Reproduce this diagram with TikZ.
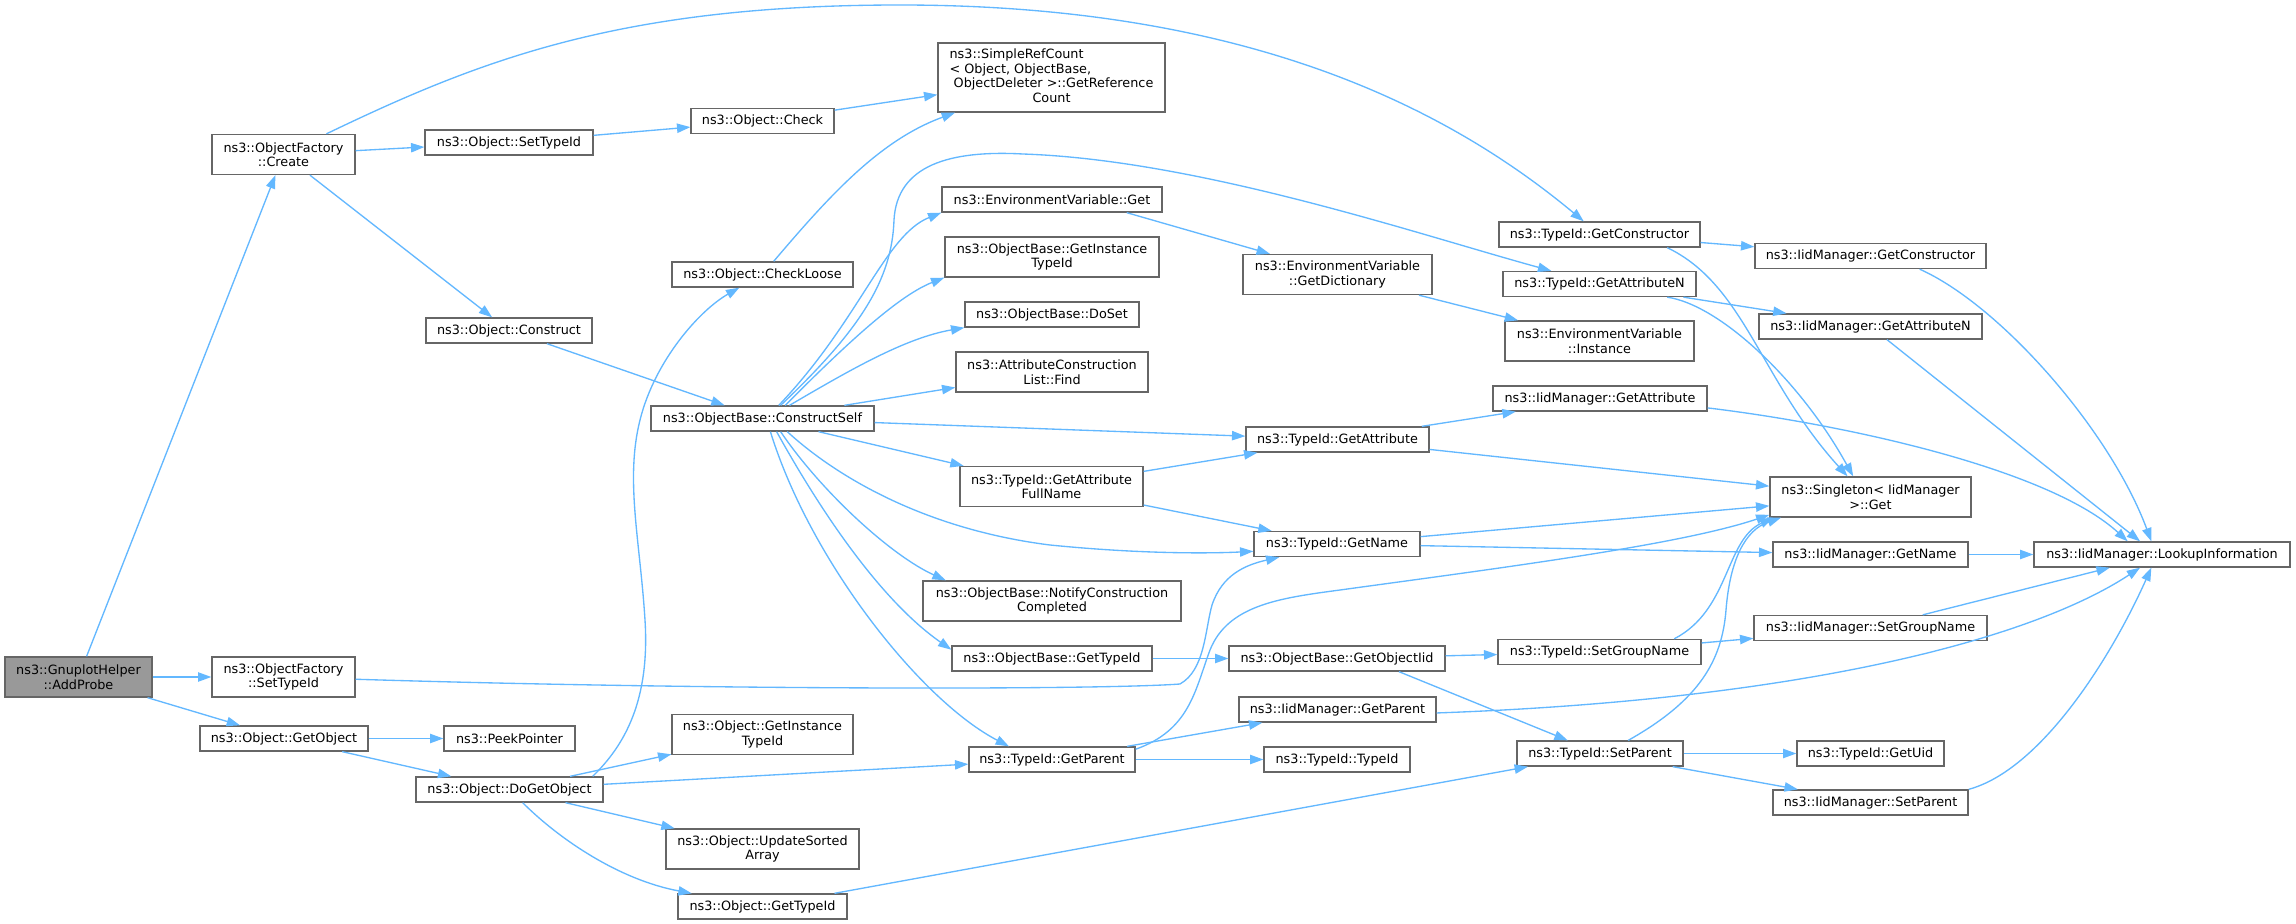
\documentclass[tikz,border=0pt]{standalone}
\usepackage{fontspec}
\setmainfont{DejaVu Sans}
\usepackage{xcolor}
\usepackage{tikz}
\usetikzlibrary{arrows.meta}
\definecolor{edgeblue}{RGB}{99,184,255}
\definecolor{boxgray}{RGB}{102,102,102}
\definecolor{rootgray}{RGB}{153,153,153}
\tikzset{
  fnbox/.style 2 args={draw=boxgray, fill=white, line width=1pt, inner sep=0pt, align=center,
    minimum width={#1*0.75pt}, minimum height={#2*0.75pt}},
  call/.style={draw=edgeblue, line width=1pt, -{Triangle[length=10pt,width=7pt]}}
}

\begin{document}
\begin{tikzpicture}[x=0.75pt, y=-0.75pt, font=\fontsize{9.6}{10.9}\selectfont]
\path[use as bounding box, fill=white] (0,0) rectangle (2296,924);

\node[fnbox={147}{40}, fill=rootgray] (probe) at (78.5,677) {ns3::GnuplotHelper\\::AddProbe};
\node[fnbox={143}{40}] (create) at (283.5,154.5) {ns3::ObjectFactory\\::Create};
\node[fnbox={143}{40}] (ofsettype) at (283.5,677) {ns3::ObjectFactory\\::SetTypeId};
\node[fnbox={168}{25}] (getobject) at (284,738.5) {ns3::Object::GetObject};
\node[fnbox={168}{25}] (setTypeId) at (509,142.5) {ns3::Object::SetTypeId};
\node[fnbox={166}{25}] (construct) at (509,330.5) {ns3::Object::Construct};
\node[fnbox={131}{25}] (peek) at (509.5,738.5) {ns3::PeekPointer};
\node[fnbox={187}{25}] (dogetobject) at (509.5,789.5) {ns3::Object::DoGetObject};
\node[fnbox={143}{25}] (check) at (762.5,121) {ns3::Object::Check};
\node[fnbox={181}{25}] (checkloose) at (762.5,274.5) {ns3::Object::CheckLoose};
\node[fnbox={223}{25}] (constructself) at (762.5,418.5) {ns3::ObjectBase::ConstructSelf};
\node[fnbox={181}{40}] (objgetinst) at (762.5,734.5) {ns3::Object::GetInstance\\TypeId};
\node[fnbox={193}{40}] (updatesorted) at (762.5,849) {ns3::Object::UpdateSorted\\Array};
\node[fnbox={169}{25}] (objgettypeid) at (762.5,906.5) {ns3::Object::GetTypeId};
\node[fnbox={227}{69}] (refcount) at (1051.5,77.5) {\begin{tabular}{@{}l@{}}ns3::SimpleRefCount\\< Object, ObjectBase,\\\ ObjectDeleter >::GetReference\\\multicolumn{1}{@{}c@{}}{Count}\end{tabular}};
\node[fnbox={220}{25}] (envget) at (1052,199.5) {ns3::EnvironmentVariable::Get};
\node[fnbox={214}{40}] (obinst) at (1052,257) {ns3::ObjectBase::GetInstance\\TypeId};
\node[fnbox={174}{25}] (doset) at (1052,314.5) {ns3::ObjectBase::DoSet};
\node[fnbox={192}{40}] (find) at (1052,372) {ns3::AttributeConstruction\\List::Find};
\node[fnbox={183}{40}] (fullname) at (1051.5,486.5) {ns3::TypeId::GetAttribute\\FullName};
\node[fnbox={258}{40}] (notify) at (1052,601) {ns3::ObjectBase::NotifyConstruction\\Completed};
\node[fnbox={200}{25}] (obgettypeid) at (1052,658.5) {ns3::ObjectBase::GetTypeId};
\node[fnbox={166}{25}] (getparent) at (1052,759.5) {ns3::TypeId::GetParent};
\node[fnbox={189}{40}] (dict) at (1337.5,274.5) {ns3::EnvironmentVariable\\::GetDictionary};
\node[fnbox={183}{25}] (getattr) at (1337.5,439.5) {ns3::TypeId::GetAttribute};
\node[fnbox={166}{25}] (getname) at (1337,544) {ns3::TypeId::GetName};
\node[fnbox={216}{25}] (getobjiid) at (1337,658.5) {ns3::ObjectBase::GetObjectIid};
\node[fnbox={197}{25}] (iidgetparent) at (1337.5,709.5) {ns3::IidManager::GetParent};
\node[fnbox={146}{25}] (typeidtypeid) at (1337,759.5) {ns3::TypeId::TypeId};
\node[fnbox={201}{25}] (getctor) at (1599.5,234.5) {ns3::TypeId::GetConstructor};
\node[fnbox={193}{25}] (getattrn) at (1599.5,284) {ns3::TypeId::GetAttributeN};
\node[fnbox={189}{40}] (envinst) at (1599.5,341) {ns3::EnvironmentVariable\\::Instance};
\node[fnbox={214}{25}] (iidgetattr) at (1600,398.5) {ns3::IidManager::GetAttribute};
\node[fnbox={203}{25}] (setgroup) at (1599.5,652) {ns3::TypeId::SetGroupName};
\node[fnbox={166}{25}] (setparent) at (1600,753.5) {ns3::TypeId::SetParent};
\node[fnbox={231}{25}] (iidgetctor) at (1870.5,256) {ns3::IidManager::GetConstructor};
\node[fnbox={223}{25}] (iidgetattrn) at (1870.5,326.5) {ns3::IidManager::GetAttributeN};
\node[fnbox={201}{40}] (singleton) at (1870.5,497) {ns3::Singleton< IidManager\\>::Get};
\node[fnbox={195}{25}] (iidgetname) at (1870.5,554.5) {ns3::IidManager::GetName};
\node[fnbox={233}{25}] (iidsetgroup) at (1870.5,628) {ns3::IidManager::SetGroupName};
\node[fnbox={147}{25}] (getuid) at (1870.5,753.5) {ns3::TypeId::GetUid};
\node[fnbox={195}{25}] (iidsetparent) at (1870.5,802.5) {ns3::IidManager::SetParent};
\node[fnbox={256}{25}] (lookup) at (2162,554.5) {ns3::IidManager::LookupInformation};

% calls
\draw[call] (probe) -- (create);
\draw[call] (probe) -- (ofsettype);
\draw[call] (probe) -- (getobject);
\draw[call] (create) -- (setTypeId);
\draw[call] (create) -- (construct);
\draw[call] (create) .. controls (480,60) and (620,5) .. (900,5) .. controls (1250,5) and (1450,110) .. (getctor);
\draw[call] (ofsettype) .. controls (700,690) and (1100,690) .. (1180,684) .. controls (1205,670) and (1205,630) .. (1212,605) .. controls (1222,575) and (1245,565) .. (getname);
\draw[call] (getobject) -- (peek);
\draw[call] (getobject) -- (dogetobject);
\draw[call] (setTypeId) -- (check);
\draw[call] (construct) -- (constructself);
\draw[call] (check) -- (refcount);
\draw[call] (checkloose) .. controls (830,195) and (880,140) .. (refcount);
\draw[call] (dogetobject.9) .. controls (625,745) and (650,700) .. (645,620) .. controls (640,540) and (625,480) .. (640,420) .. controls (655,360) and (700,310) .. (checkloose);
\draw[call] (dogetobject) -- (objgetinst);
\draw[call] (dogetobject) -- (getparent);
\draw[call] (dogetobject) -- (updatesorted);
\draw[call] (dogetobject) .. controls (560,840) and (620,880) .. (objgettypeid);
\draw[call] (objgettypeid) -- (setparent);

% ConstructSelf
\draw[call] (constructself.39) .. controls (860,320) and (885,235) .. (envget.south west);
\draw[call] (constructself.36) .. controls (860,330) and (892,280) .. (894,220) .. controls (897,165) and (950,150) .. (1023,154) .. controls (1200,160) and (1420,235) .. (getattrn);
\draw[call] (constructself.30) .. controls (850,340) and (900,295) .. (obinst.south west);
\draw[call] (constructself.26) .. controls (850,370) and (905,338) .. (doset.south west);
\draw[call] (constructself) -- (find);
\draw[call] (constructself) -- (getattr);
\draw[call] (constructself) -- (fullname);
\draw[call] (constructself.332) .. controls (840,480) and (930,530) .. (1050,545) .. controls (1150,555) and (1220,553) .. (getname.185);
\draw[call] (constructself.324) .. controls (820,490) and (890,555) .. (notify.169);
\draw[call] (constructself.317) .. controls (820,510) and (880,600) .. (obgettypeid.175);
\draw[call] (constructself.301) .. controls (810,560) and (920,700) .. (getparent.163);

\draw[call] (envget.350) -- (dict.163);
\draw[call] (dict) -- (envinst);
\draw[call] (fullname) -- (getattr);
\draw[call] (fullname) -- (getname);
\draw[call] (getattr) -- (iidgetattr);
\draw[call] (getattr) -- (singleton);
\draw[call] (getname) -- (singleton);
\draw[call] (getname) -- (iidgetname);
\draw[call] (obgettypeid) -- (getobjiid);
\draw[call] (getobjiid) -- (setgroup);
\draw[call] (getobjiid.348) -- (setparent);
\draw[call] (getparent) -- (iidgetparent);
\draw[call] (getparent) -- (typeidtypeid);
\draw[call] (getparent.7) .. controls (1190,730) and (1195,690) .. (1210,650) .. controls (1228,605) and (1280,598) .. (1340,590) .. controls (1500,568) and (1680,545) .. (singleton.190);

\draw[call] (getctor) -- (iidgetctor);
\draw[call] (getctor.349) .. controls (1745,285) and (1760,380) .. (singleton.138);
\draw[call] (getattrn) -- (iidgetattrn);
\draw[call] (getattrn.349) .. controls (1720,305) and (1800,380) .. (singleton.130);
\draw[call] (setgroup) -- (iidsetgroup);
\draw[call] (setgroup.10) .. controls (1730,610) and (1725,540) .. (singleton.192);
\draw[call] (setparent) -- (getuid);
\draw[call] (setparent) -- (iidsetparent);
\draw[call] (setparent.25) .. controls (1700,700) and (1722,660) .. (1726,610) .. controls (1730,560) and (1745,530) .. (singleton.193);

% LookupInformation
\draw[call] (iidgetctor.345) .. controls (2000,305) and (2110,430) .. (lookup.129);
\draw[call] (iidgetattrn) -- (lookup.149);
\draw[call] (iidgetattr.355) .. controls (1850,425) and (2050,470) .. (lookup.159);
\draw[call] (iidgetname) -- (lookup);
\draw[call] (iidsetgroup) -- (lookup);
\draw[call] (iidgetparent.358) .. controls (1800,700) and (2030,640) .. (lookup.211);
\draw[call] (iidsetparent.north east) .. controls (2040,770) and (2110,660) .. (lookup.231);
\end{tikzpicture}
\end{document}
